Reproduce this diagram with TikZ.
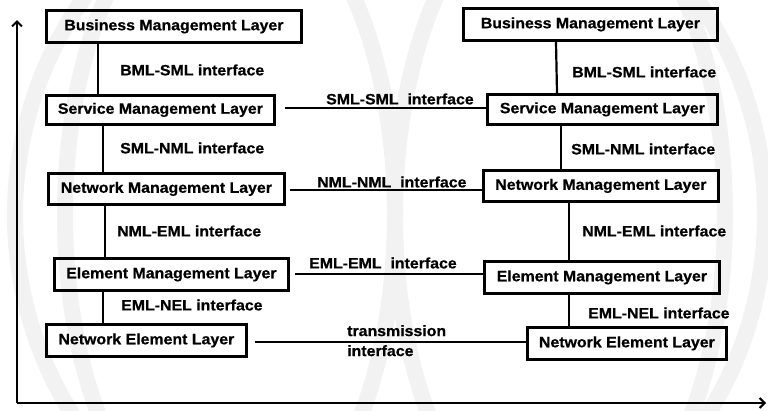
\documentclass[tikz,border=0pt]{standalone}
\usepackage{fontspec}
\setmainfont{Liberation Sans}[FakeStretch=1.06,BoldFeatures={FakeBold=0.7}]
\usetikzlibrary{arrows.meta}
\begin{document}
\begin{tikzpicture}[x=1pt,y=-1pt,
  lay/.style={draw,line width=2.8pt,inner sep=0pt,anchor=north west,minimum height=32pt,
    font=\bfseries\fontsize{15}{17}\selectfont},
  lbl/.style={inner sep=0pt,anchor=west,font=\bfseries\fontsize{15}{17}\selectfont},
  conn/.style={line width=2.2pt},
  axis/.style={line width=2.4pt,-{Straight Barb[length=5pt,width=10pt,line width=2pt]}},
  wm/.style={black!5,line width=16pt}]
\useasboundingbox (0,0) rectangle (768,410);
\fill[white] (0,0) rectangle (768,410);
% watermark
\begin{scope}
\clip (0,0) rectangle (768,410);
\draw[wm] (390,215) circle[radius=375];
\draw[wm] (560,215) ellipse[x radius=165,y radius=330];
\draw[wm] (230,215) ellipse[x radius=165,y radius=330];
\end{scope}
% axes
\coordinate (o) at (17,403);
\coordinate (ytop) at (17,20);
\coordinate (xend) at (766,403);
\draw[axis] (o) -- (ytop);
\draw[axis] (o) -- (xend);
% left column
\node[lay,minimum width=255pt] (lb) at (45,9) {Business Management Layer};
\node[lay,minimum width=228pt,minimum height=29pt] (ls) at (45,94) {Service Management Layer};
\node[lay,minimum width=236pt,minimum height=31pt] (ln) at (47,172) {Network Management Layer};
\node[lay,minimum width=234pt] (le) at (53,257) {Element Management Layer};
\node[lay,minimum width=200pt] (lne) at (45,323) {Network Element Layer};
% right column
\node[lay,minimum width=254pt] (rb) at (462,7) {Business Management Layer};
\node[lay,minimum width=230pt,minimum height=30pt] (rs) at (486,93) {Service Management Layer};
\node[lay,minimum width=235pt,minimum height=31pt] (rn) at (482,169) {Network Management Layer};
\node[lay,minimum width=235pt] (re) at (483,260) {Element Management Layer};
\node[lay,minimum width=199pt] (rne) at (526,326) {Network Element Layer};
% vertical connectors left
\draw[conn] (lb.south -| 98,0) -- (ls.north -| 98,0);
\draw[conn] (ls.south -| 103,0) -- (ln.north -| 103,0);
\draw[conn] (ln.south -| 105,0) -- (le.north -| 105,0);
\draw[conn] (le.south -| 103,0) -- (lne.north -| 103,0);
% vertical connectors right
\draw[conn] (rb.south -| 556,0) -- (rs.north -| 557,0);
\draw[conn] (rs.south -| 561,0) -- (rn.north -| 561,0);
\draw[conn] (rn.south -| 569,0) -- (re.north -| 569,0);
\draw[conn] (re.south -| 569,0) -- (rne.north -| 569,0);
% horizontal connectors
\draw[conn,shorten <=9pt] (ls.east |- 0,108) -- (rs.west |- 0,108);
\draw[conn,shorten <=4pt] (ln.east |- 0,190) -- (rn.west |- 0,190);
\draw[conn,shorten <=5pt] (le.east |- 0,274) -- (re.west |- 0,274);
\draw[conn,shorten <=7pt] (lne.east |- 0,342) -- (rne.west |- 0,342);
% labels
\node[lbl] (l1) at (120,70) {BML-SML interface};
\node[lbl] (l2) at (120,148) {SML-NML interface};
\node[lbl] (l3) at (117,231) {NML-EML interface};
\node[lbl] (l4) at (121,305) {EML-NEL interface};
\node[lbl] (r1) at (572,72) {BML-SML interface};
\node[lbl] (r2) at (571,149) {SML-NML interface};
\node[lbl] (r3) at (582,231) {NML-EML interface};
\node[lbl] (r4) at (588,313) {EML-NEL interface};
\node[lbl] (h1) at (326,99) {SML-SML~ interface};
\node[lbl] (h2) at (317,182) {NML-NML~ interface};
\node[lbl] (h3) at (309,263) {EML-EML~ interface};
\node[lbl,align=left,anchor=north west,font=\bfseries\fontsize{15}{20}\selectfont] (h4) at (347,325) {transmission\\interface};
\end{tikzpicture}
\end{document}
